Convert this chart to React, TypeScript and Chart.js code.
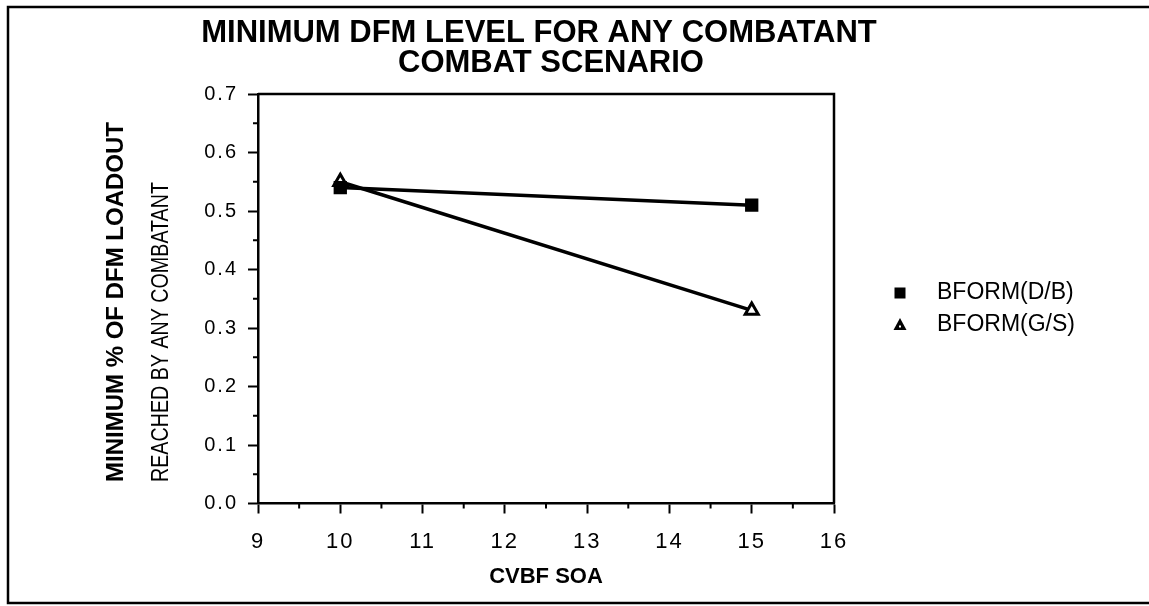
import React, { useEffect, useRef } from 'react';
import { Chart, registerables } from 'chart.js';

Chart.register(...registerables);

// ---- data ----
const titleLines = ['MINIMUM DFM LEVEL FOR ANY COMBATANT', 'COMBAT SCENARIO'];
const xAxisTitle = 'CVBF SOA';
const yAxisTitleBold = 'MINIMUM % OF DFM LOADOUT';
const yAxisTitleSub = 'REACHED BY ANY COMBATANT';
const seriesNames = ['BFORM(D/B)', 'BFORM(G/S)'];
const soaValues = [10, 15];
const dbValues = [0.54, 0.51];
const gsValues = [0.55, 0.33];
const xTicks = [9, 10, 11, 12, 13, 14, 15, 16];
const xMinorTicks = [9.5, 10.5, 11.5, 12.5, 13.5, 14.5, 15.5];
const yTicks = [0, 0.1, 0.2, 0.3, 0.4, 0.5, 0.6, 0.7];
const yMinorTicks = [0.05, 0.15, 0.25, 0.35, 0.45, 0.55, 0.65];

const FONT = '"Liberation Sans", Arial, Helvetica, sans-serif';

const spacingPlugin = {
  id: 'spacing',
  beforeDraw(chart: any) {
    (chart.ctx as any).letterSpacing = '2px';
  },
  beforeDatasetsDraw(chart: any) {
    (chart.ctx as any).letterSpacing = '0px';
  },
};

const decorPlugin = {
  id: 'decor',
  afterDraw(chart: any) {
    const ctx: CanvasRenderingContext2D = chart.ctx;
    const area = chart.chartArea;
    const xs = chart.scales.x;
    const ys = chart.scales.y;
    ctx.save();
    (ctx as any).letterSpacing = '0px';
    ctx.strokeStyle = '#000';
    ctx.fillStyle = '#000';

    // outer frame (left, top, bottom)
    ctx.lineWidth = 2.5;
    ctx.beginPath();
    ctx.moveTo(1149, 7);
    ctx.lineTo(8, 7);
    ctx.lineTo(8, 603);
    ctx.lineTo(1149, 603);
    ctx.stroke();

    // plot box top & right
    ctx.lineWidth = 2.5;
    ctx.beginPath();
    ctx.moveTo(area.left, area.top);
    ctx.lineTo(area.right, area.top);
    ctx.lineTo(area.right, area.bottom);
    ctx.stroke();

    // minor ticks
    ctx.lineWidth = 2;
    ctx.beginPath();
    for (const v of yMinorTicks) {
      const py = ys.getPixelForValue(v);
      ctx.moveTo(area.left - 5, py);
      ctx.lineTo(area.left, py);
    }
    for (const v of xMinorTicks) {
      const px = xs.getPixelForValue(v);
      ctx.moveTo(px, area.bottom);
      ctx.lineTo(px, area.bottom + 5);
    }
    ctx.stroke();

    // title
    ctx.font = `bold 31px ${FONT}`;
    ctx.textAlign = 'center';
    ctx.textBaseline = 'middle';
    ctx.fillText(titleLines[0], 539, 33);
    ctx.fillText(titleLines[1], 551, 63);

    // x axis title
    ctx.font = `bold 22px ${FONT}`;
    ctx.fillText(xAxisTitle, (area.left + area.right) / 2, 577);

    // y axis titles (rotated)
    ctx.save();
    ctx.translate(123, 482);
    ctx.rotate(-Math.PI / 2);
    ctx.font = `bold 24px ${FONT}`;
    ctx.textAlign = 'left';
    ctx.textBaseline = 'alphabetic';
    ctx.fillText(yAxisTitleBold, 0, 0);
    ctx.restore();

    ctx.save();
    ctx.translate(168, 482);
    ctx.rotate(-Math.PI / 2);
    ctx.scale(0.82, 1);
    ctx.font = `24px ${FONT}`;
    ctx.textAlign = 'left';
    ctx.textBaseline = 'alphabetic';
    ctx.fillText(yAxisTitleSub, 0, 0);
    ctx.restore();

    // legend
    const lx = 900;
    const rows = [293, 325];
    ctx.font = `23px ${FONT}`;
    ctx.textAlign = 'left';
    ctx.textBaseline = 'middle';
    chart.data.datasets.forEach((ds: any, i: number) => {
      const y = rows[i];
      if (ds.pointStyle === 'rect') {
        ctx.fillRect(lx - 5.5, y - 5.5, 11, 11);
      } else {
        ctx.beginPath();
        ctx.moveTo(lx, y - 7);
        ctx.lineTo(lx + 6.5, y + 5);
        ctx.lineTo(lx - 6.5, y + 5);
        ctx.closePath();
        ctx.fill();
        ctx.fillStyle = '#fff';
        ctx.fillRect(lx - 1, y + 0.5, 2, 2);
        ctx.fillStyle = '#000';
      }
      ctx.fillText(ds.label, 937, y);
    });

    ctx.restore();
  },
};

export default function App() {
  const ref = useRef<HTMLCanvasElement | null>(null);

  useEffect(() => {
    if (!ref.current) return;
    Chart.defaults.font.family = FONT;
    const chart = new Chart(ref.current, {
      type: 'line',
      data: {
        datasets: [
          {
            label: seriesNames[0],
            data: soaValues.map((x, i) => ({ x, y: dbValues[i] })),
            borderColor: '#000',
            backgroundColor: '#000',
            borderWidth: 3.5,
            pointStyle: 'rect',
            pointRadius: 8,
            pointBorderWidth: 2,
            pointBackgroundColor: '#000',
            pointBorderColor: '#000',
            tension: 0,
          },
          {
            label: seriesNames[1],
            data: soaValues.map((x, i) => ({ x, y: gsValues[i] })),
            borderColor: '#000',
            backgroundColor: '#fff',
            borderWidth: 3.5,
            pointStyle: 'triangle',
            pointRadius: 7.5,
            pointBorderWidth: 3,
            pointBackgroundColor: '#fff',
            pointBorderColor: '#000',
            tension: 0,
          },
        ],
      },
      options: {
        animation: false,
        responsive: false,
        devicePixelRatio: 1,
        layout: { padding: { top: 94, right: 315, bottom: 0, left: 0 } },
        plugins: {
          legend: { display: false },
          title: { display: false },
          tooltip: { enabled: false },
        },
        scales: {
          x: {
            type: 'linear',
            min: 9,
            max: 16,
            afterFit: (s: any) => {
              s.height = 102.5;
            },
            afterBuildTicks: (s: any) => {
              s.ticks = xTicks.map((v) => ({ value: v }));
            },
            ticks: {
              font: { size: 22 },
              color: '#000',
              padding: 15,
              autoSkip: false,
              maxRotation: 0,
              callback: (v: any) => String(v),
            },
            grid: {
              drawOnChartArea: false,
              drawTicks: true,
              tickLength: 10,
              tickWidth: 2,
              tickColor: '#000',
            },
            border: { display: true, color: '#000', width: 2.5 },
          },
          y: {
            type: 'linear',
            min: 0,
            max: 0.7,
            afterFit: (s: any) => {
              s.width = 258;
            },
            afterBuildTicks: (s: any) => {
              s.ticks = yTicks.map((v) => ({ value: v }));
            },
            ticks: {
              font: { size: 20 },
              color: '#000',
              padding: 10,
              callback: (v: any) => Number(v).toFixed(1),
            },
            grid: {
              drawOnChartArea: false,
              drawTicks: true,
              tickLength: 10,
              tickWidth: 2,
              tickColor: '#000',
            },
            border: { display: true, color: '#000', width: 2.5 },
          },
        },
      },
      plugins: [spacingPlugin, decorPlugin],
    } as any);
    return () => chart.destroy();
  }, []);

  return (
    <div style={{ position: 'absolute', left: 0, top: 0, width: 1149, height: 606, background: '#fff' }}>
      <canvas ref={ref} width={1149} height={606} style={{ display: 'block' }} />
    </div>
  );
}
